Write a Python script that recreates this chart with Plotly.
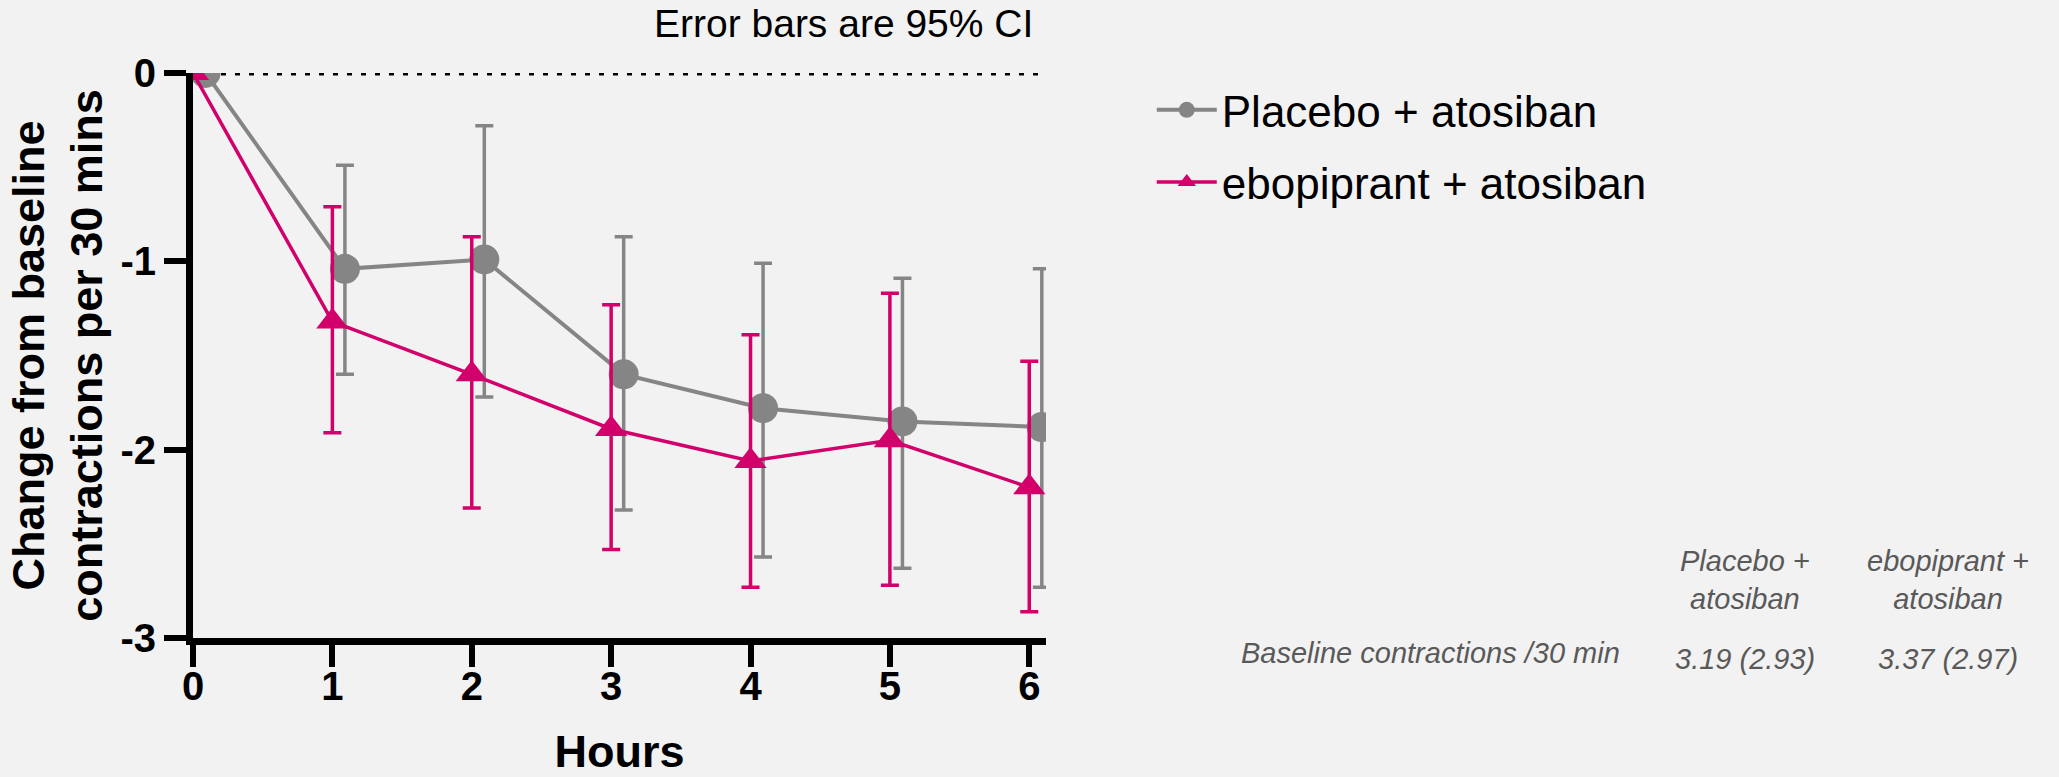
import plotly.graph_objects as go

hours = [0, 1, 2, 3, 4, 5, 6]

placebo_mean = [0, -1.04, -0.99, -1.60, -1.78, -1.85, -1.88]
placebo_upper = [0, -0.49, -0.28, -0.87, -1.01, -1.09, -1.04]
placebo_lower = [0, -1.60, -1.72, -2.32, -2.57, -2.63, -2.73]

ebo_mean = [0, -1.32, -1.60, -1.89, -2.06, -1.95, -2.20]
ebo_upper = [0, -0.71, -0.87, -1.23, -1.39, -1.17, -1.53]
ebo_lower = [0, -1.91, -2.31, -2.53, -2.73, -2.72, -2.86]

y_tickvals = [-3, -2, -1, 0]
y_ticktext = ["-3", "-2", "-1", "0"]
x_tickvals = [0, 1, 2, 3, 4, 5, 6]

table_header = ["Placebo +<br>atosiban", "ebopiprant +<br>atosiban"]
table_row_label = "Baseline contractions /30 min"
table_values = ["3.19 (2.93)", "3.37 (2.97)"]

GRAY = "#858585"
PINK = "#D1006B"
BG = "#F2F2F2"
FONT = "Liberation Sans, Arial, sans-serif"

nudge = 0.09
placebo_x = [h + nudge for h in hours]

fig = go.Figure()

fig.add_trace(go.Scatter(
    x=placebo_x, y=placebo_mean, mode="lines+markers",
    name="Placebo + atosiban", legendgroup="a",
    line=dict(color=GRAY, width=4),
    marker=dict(symbol="circle", size=30, color=GRAY),
    error_y=dict(type="data", symmetric=False,
                 array=[u - m for u, m in zip(placebo_upper, placebo_mean)],
                 arrayminus=[m - l for m, l in zip(placebo_mean, placebo_lower)],
                 color=GRAY, thickness=3.5, width=9),
))

fig.add_trace(go.Scatter(
    x=hours, y=ebo_mean, mode="lines+markers",
    name="ebopiprant + atosiban", legendgroup="b",
    line=dict(color=PINK, width=3.5),
    marker=dict(symbol="triangle-up", size=28, color=PINK),
    error_y=dict(type="data", symmetric=False,
                 array=[u - m for u, m in zip(ebo_upper, ebo_mean)],
                 arrayminus=[m - l for m, l in zip(ebo_mean, ebo_lower)],
                 color=PINK, thickness=3.5, width=9),
))

fig.add_shape(type="line", xref="x", yref="y", x0=0, x1=6.07, y0=0, y1=0,
              line=dict(color="black", width=5, dash="5px,9px"), layer="below")

fig.update_layout(
    width=2059, height=777,
    margin=dict(l=193, r=1013, t=73, b=139, autoexpand=False),
    paper_bgcolor=BG, plot_bgcolor=BG,
    font=dict(family=FONT, color="black"),
    showlegend=True,
    legend=dict(
        x=1.124, y=0.997, xanchor="left", yanchor="top",
        xref="paper", yref="paper",
        font=dict(size=44, family=FONT, color="black"),
        bgcolor="rgba(0,0,0,0)", borderwidth=0,
        traceorder="grouped", tracegroupgap=12, itemwidth=60,
    ),
    xaxis=dict(
        range=[0, 6.12], tickvals=x_tickvals,
        showline=True, linecolor="black", linewidth=7,
        ticks="outside", ticklen=22, tickwidth=6, tickcolor="black",
        ticklabelstandoff=-15,
        showgrid=False, zeroline=False,
        tickfont=dict(size=40, family=FONT, weight="bold", color="black"),
        title=dict(text="Hours", standoff=39,
                   font=dict(size=45, family=FONT, weight="bold", color="black")),
    ),
    yaxis=dict(
        range=[-3, 0], tickvals=y_tickvals, ticktext=y_ticktext,
        showline=True, linecolor="black", linewidth=7,
        ticks="outside", ticklen=22, tickwidth=6, tickcolor="black",
        showgrid=False, zeroline=False,
        tickfont=dict(size=40, family=FONT, weight="bold", color="black"),
        title=dict(text="Change from baseline<br>contractions per 30 mins", standoff=6,
                   font=dict(size=45, family=FONT, weight="bold", color="black")),
    ),
)

fig.add_annotation(text="Error bars are 95% CI", xref="paper", yref="paper",
                   x=0.987, y=1.087, xanchor="right", yanchor="middle",
                   showarrow=False, font=dict(size=39, family=FONT, color="black"))

TBL = dict(size=29, family=FONT, color="#595959", style="italic")
col_x = [1.8195, 2.0574]
for cx, head, val in zip(col_x, table_header, table_values):
    fig.add_annotation(text=head, xref="paper", yref="paper", x=cx, y=0.1023,
                       xanchor="center", yanchor="middle", showarrow=False, font=TBL)
    fig.add_annotation(text=val, xref="paper", yref="paper", x=cx, y=-0.038,
                       xanchor="center", yanchor="middle", showarrow=False, font=TBL)
fig.add_annotation(text=table_row_label, xref="paper", yref="paper", x=1.451, y=-0.026,
                   xanchor="center", yanchor="middle", showarrow=False, font=TBL)

fig.write_html(
    "out.html",
    config={"displayModeBar": False},
    post_script="document.body.style.margin='0';document.body.style.padding='0';"
                "document.body.style.overflow='hidden';"
                "document.documentElement.style.background='" + BG + "';",
)
